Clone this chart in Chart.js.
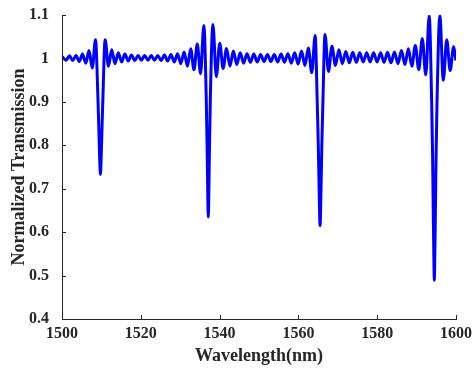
<!DOCTYPE html>
<html>
<head>
<meta charset="utf-8">
<script src="https://cdn.jsdelivr.net/npm/chart.js@4.4.0/dist/chart.umd.min.js"></script>
<style>
    html, body { margin: 0; padding: 0; background: #fff; }
    #wrap { width: 475px; height: 371px; }
</style>
</head>
<body>
<div id="wrap"><canvas id="canvas" width="475" height="371"></canvas></div>
<script>
// transmission spectrum: ripple peaks/troughs and the four resonance dips
const wavelength = [
    1500.00, 1501.05, 1501.90, 1502.72, 1503.55, 1504.38, 1505.20, 1506.03, 1506.85, 1507.68, 1508.50,
    1509.15, 1509.40, 1509.58, 1509.75, 1509.92, 1510.10, 1510.35,
    1510.95, 1511.79, 1512.62, 1513.46, 1514.29, 1515.13, 1515.96, 1516.80, 1517.63, 1518.47,
    1519.30, 1520.14, 1520.97, 1521.81, 1522.64, 1523.48, 1524.31, 1525.15, 1525.98, 1526.82,
    1527.65, 1528.49, 1529.32, 1530.16, 1530.99, 1531.83, 1532.66, 1533.50, 1534.33, 1535.17, 1536.00,
    1536.63, 1536.86, 1537.01, 1537.13, 1537.25, 1537.40, 1537.63,
    1538.30, 1539.17, 1540.03, 1540.90, 1541.76, 1542.63, 1543.49, 1544.36, 1545.22, 1546.09,
    1546.95, 1547.82, 1548.68, 1549.55, 1550.41, 1551.28, 1552.14, 1553.01, 1553.87, 1554.74,
    1555.60, 1556.47, 1557.33, 1558.20, 1559.06, 1559.93, 1560.79, 1561.66, 1562.52, 1563.39, 1564.25,
    1564.78, 1565.05, 1565.26, 1565.50, 1565.74, 1565.95, 1566.22,
    1566.75, 1567.63, 1568.51, 1569.40, 1570.28, 1571.16, 1572.04, 1572.92, 1573.80, 1574.69,
    1575.57, 1576.45, 1577.33, 1578.21, 1579.09, 1579.97, 1580.86, 1581.74, 1582.62, 1583.50,
    1584.38, 1585.26, 1586.15, 1587.03, 1587.91, 1588.79, 1589.67, 1590.55, 1591.44, 1592.32, 1593.20,
    1593.82, 1594.05, 1594.25, 1594.40, 1594.50, 1594.60, 1594.75, 1594.95, 1595.18,
    1595.90, 1596.78, 1597.65, 1598.52, 1599.40, 1600.00
];

const transmission = [
    1.004, 0.996, 1.006, 0.995, 1.007, 0.993, 1.010, 0.989, 1.018, 0.978, 1.043,
    0.900, 0.822, 0.765, 0.733, 0.765, 0.822, 0.900,
    1.043, 0.982, 1.020, 0.988, 1.013, 0.992, 1.010, 0.994, 1.008, 0.995,
    1.007, 0.996, 1.007, 0.996, 1.007, 0.996, 1.007, 0.995, 1.008, 0.994,
    1.009, 0.992, 1.011, 0.988, 1.015, 0.982, 1.022, 0.974, 1.033, 0.965, 1.076,
    0.900, 0.780, 0.680, 0.635, 0.680, 0.780, 0.900,
    1.078, 0.958, 1.035, 0.977, 1.023, 0.982, 1.017, 0.986, 1.013, 0.989,
    1.011, 0.991, 1.010, 0.992, 1.009, 0.993, 1.009, 0.993, 1.009, 0.992,
    1.010, 0.991, 1.011, 0.989, 1.013, 0.987, 1.017, 0.984, 1.024, 0.967, 1.053,
    0.900, 0.800, 0.700, 0.615, 0.700, 0.800, 0.900,
    1.055, 0.970, 1.028, 0.984, 1.020, 0.988, 1.016, 0.990, 1.014, 0.991,
    1.013, 0.992, 1.013, 0.992, 1.013, 0.992, 1.013, 0.991, 1.014, 0.990,
    1.015, 0.988, 1.018, 0.986, 1.022, 0.982, 1.030, 0.974, 1.046, 0.962, 1.098,
    0.900, 0.780, 0.630, 0.530, 0.489, 0.530, 0.630, 0.780, 0.900,
    1.098, 0.950, 1.043, 0.972, 1.027, 0.995
];

const xTicks = [1500, 1520, 1540, 1560, 1580, 1600];
const yTicks = [0.4, 0.5, 0.6, 0.7, 0.8, 0.9, 1, 1.1];

const axisColor = '#262626';
const serif = '"Liberation Serif", "Times New Roman", serif';

function formatTick(v) {
    return String(+Number(v).toFixed(1));
}

// small tick marks pointing into the plot
const inwardTicks = {
    id: 'inwardTicks',
    afterDraw(chart) {
        const ctx = chart.ctx;
        const area = chart.chartArea;
        const xs = chart.scales.x;
        const ys = chart.scales.y;
        const len = 4;

        ctx.save();
        ctx.strokeStyle = axisColor;
        ctx.lineWidth = 1;
        ctx.beginPath();
        xTicks.forEach(v => {
            const px = Math.round(xs.getPixelForValue(v)) + 0.5;
            ctx.moveTo(px, area.bottom);
            ctx.lineTo(px, area.bottom - len);
        });
        yTicks.forEach(v => {
            const py = Math.round(ys.getPixelForValue(v)) + 0.5;
            ctx.moveTo(area.left, py);
            ctx.lineTo(area.left + len, py);
        });
        ctx.stroke();
        ctx.restore();
    }
};

const points = wavelength.map((w, i) => ({ x: w, y: transmission[i] }));

const ctx = document.getElementById('canvas').getContext('2d');

window.chart = new Chart(ctx, {
    type: 'line',
    data: {
        datasets: [{
            data: points,
            borderColor: '#0000ff',
            borderWidth: 3,
            pointRadius: 0,
            fill: false,
            cubicInterpolationMode: 'monotone'
        }]
    },
    options: {
        responsive: false,
        animation: false,
        devicePixelRatio: 1,
        layout: {
            padding: { top: 15, right: 19, left: 0, bottom: 0 }
        },
        plugins: {
            legend: { display: false },
            tooltip: { enabled: false }
        },
        scales: {
            x: {
                type: 'linear',
                min: 1500,
                max: 1600,
                afterBuildTicks: scale => { scale.ticks = xTicks.map(v => ({ value: v })); },
                afterFit: scale => {
                    scale.height = 52;
                    scale.paddingLeft = 0;
                    scale.paddingRight = 0;
                },
                grid: { display: false, drawTicks: false },
                border: { display: true, color: axisColor, width: 1 },
                ticks: {
                    color: axisColor,
                    padding: 5,
                    maxRotation: 0,
                    autoSkip: false,
                    font: { family: serif, size: 16, weight: 'bold' },
                    callback: v => formatTick(v)
                },
                title: {
                    display: true,
                    text: 'Wavelength(nm)',
                    color: axisColor,
                    padding: { top: 0, bottom: 6 },
                    font: { family: serif, size: 18, weight: 'bold', lineHeight: 1 }
                }
            },
            y: {
                min: 0.4,
                max: 1.1,
                afterBuildTicks: scale => { scale.ticks = yTicks.map(v => ({ value: v })); },
                afterFit: scale => {
                    scale.width = 62;
                    scale.paddingTop = 0;
                    scale.paddingBottom = 0;
                },
                grid: { display: false, drawTicks: false },
                border: { display: true, color: axisColor, width: 1 },
                ticks: {
                    color: axisColor,
                    padding: 13,
                    autoSkip: false,
                    font: { family: serif, size: 16, weight: 'bold' },
                    callback: v => formatTick(v)
                },
                title: {
                    display: true,
                    text: 'Normalized Transmission',
                    color: axisColor,
                    padding: { top: 10, bottom: 0 },
                    font: { family: serif, size: 18, weight: 'bold', lineHeight: 1 }
                }
            }
        }
    },
    plugins: [inwardTicks]
});
</script>
</body>
</html>
